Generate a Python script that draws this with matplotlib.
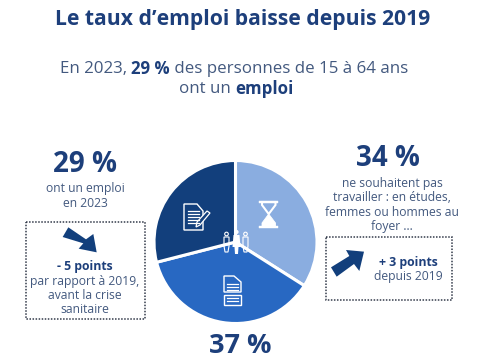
import matplotlib
matplotlib.use("Agg")
import matplotlib.pyplot as plt
from matplotlib.patches import Polygon, Rectangle, Circle

W, H = 485, 360
categories = ["Ne souhaitent pas travailler", "Autre situation", "Ont un emploi"]
values = [34, 37, 29]
colors = ["#8aade0", "#2868c2", "#123f7c"]
value_labels = ["34 %", "37 %", "29 %"]

title = "Le taux d’emploi baisse depuis 2019"
sub1 = [("En 2023, ", False), ("29 %", True), (" des personnes de 15 à 64 ans", False)]
sub2 = [("ont un ", False), ("emploi", True)]
left_lines = ["ont un emploi", "en 2023"]
left_delta = "- 5 points"
left_note = ["par rapport à 2019,", "avant la crise", "sanitaire"]
right_lines = ["ne souhaitent pas", "travailler : en études,", "femmes ou hommes au", "foyer ..."]
right_delta = "+ 3 points"
right_note = "depuis 2019"

DARK = "#1d3f7b"
GREY = "#43597f"
plt.rcParams["font.family"] = ["Open Sans", "DejaVu Sans"]

fig = plt.figure(figsize=(W / 100, H / 100), dpi=100, facecolor="white")

# Pie
cx, cy, r = 235.5, 242, 81.5
pax = fig.add_axes([(cx - r) / W, 1 - (cy + r) / H, 2 * r / W, 2 * r / H])
pax.pie(values, colors=colors, startangle=90, counterclock=False, radius=1,
        wedgeprops=dict(edgecolor="white", linewidth=2.2))
pax.set_xlim(-1, 1); pax.set_ylim(-1, 1); pax.set_aspect("equal"); pax.axis("off")

# Overlay in pixel coordinates
ax = fig.add_axes([0, 0, 1, 1], zorder=5)
ax.set_xlim(0, W); ax.set_ylim(H, 0); ax.axis("off"); ax.patch.set_alpha(0)


def t(x, y, s, size=9, color=GREY, bold=False, ha="center"):
    return ax.text(x, y + 0.16 * size, s, fontsize=size, color=color, ha=ha, va="center",
                   fontweight="bold" if bold else "normal")


def runs(xc, y, parts, size):
    rend = fig.canvas.get_renderer()
    arts = []
    total = 0
    for s, b in parts:
        a = t(0, y, s.replace(" ", "\u00a0"), size, DARK if b else GREY, b, "left")
        w = a.get_window_extent(rend).width
        arts.append((a, w)); total += w
    x = xc - total / 2
    for a, w in arts:
        a.set_x(x); x += w


t(242.5, 17, title, 15.2, DARK, True)
runs(234, 67, sub1, 12.2)
runs(236, 87, sub2, 12.2)

t(85, 161, value_labels[2], 20, DARK, True)
for y, s in zip([187, 202], left_lines):
    t(85, y, s, 8.7)
t(388, 155, value_labels[0], 20, DARK, True)
for y, s in zip([182, 196, 211, 225], right_lines):
    t(392, y, s, 8.7)
t(240, 342.5, value_labels[1], 19.5, DARK, True)

# Dotted boxes
for x0, y0, x1, y1 in [(26, 222, 145, 319), (326, 237, 452, 300)]:
    ax.add_patch(Rectangle((x0, y0), x1 - x0, y1 - y0, fill=False, ec="#333a4a",
                           lw=1.1, ls=(0, (1, 1))))
t(85, 265, left_delta, 8.8, DARK, True)
for y, s in zip([280, 294, 308], left_note):
    t(85, y, s, 8.7)
t(408, 261, right_delta, 8.8, DARK, True)
t(408, 275, right_note, 8.7)

# Arrows
def poly(pts, ox=0, oy=0, k=1, **kw):
    ax.add_patch(Polygon([(ox + a / k, oy + b / k) for a, b in pts], closed=True, **kw))

poly([(205, 262), (258, 298), (280, 282), (290, 337), (236, 326), (250, 310), (188, 291)],
     0, 140, 3, fc="#123f7c", ec="none")
poly([(132, 365), (118, 423), (102, 402), (50, 440), (33, 412), (88, 378), (78, 360)],
     320, 130, 3, fc="#123f7c", ec="none")

# Icons
WH = "white"
kw = dict(fill=False, ec=WH, lw=1.0)
# hourglass
ax.add_patch(Rectangle((259.5, 200.5), 18.5, 2, fc=WH, ec=WH, lw=0.3))
ax.add_patch(Rectangle((259.5, 226), 18.5, 2, fc=WH, ec=WH, lw=0.3))
poly([(262, 202), (275.5, 202), (275.5, 205), (268.7, 214), (262, 205)], fill=False, ec=WH, lw=1.5)
poly([(268.7, 214), (275.5, 223), (275.5, 226), (262, 226), (262, 223)], fill=True, fc=WH, ec=WH, lw=0.6)
# document + pen
poly([(184, 204), (197, 204), (203, 211), (203, 230), (184, 230)], **kw)
for yy in [211, 214, 217, 220, 223]:
    ax.plot([188, 199], [yy, yy], color=WH, lw=0.9)
poly([(197, 222), (207, 211), (210, 213), (200, 225), (196, 227)], fc=colors[2], ec=WH, lw=0.9)
# forms
poly([(224, 276), (234, 276), (241, 282), (241, 292), (224, 292)], **kw)
for yy in [284, 287, 290]:
    ax.plot([227, 238], [yy, yy], color=WH, lw=0.9)
ax.add_patch(Rectangle((224, 295), 17.5, 9.5, **kw))
for yy in [298, 301]:
    ax.plot([227, 238], [yy, yy], color=WH, lw=0.9)
# people
ax.add_patch(Circle((236.5, 232), 2.1, fc=WH, ec="none"))
poly([(233.5, 235), (239.5, 235), (240.5, 247), (238.5, 247), (238, 254), (235, 254), (234.5, 247), (232.5, 247)],
     fc=WH, ec="none")
for px in (226.5, 245.5):
    ax.add_patch(Circle((px, 234), 1.8, fc="none", ec=WH, lw=0.8))
    poly([(px - 2.5, 237), (px + 2.5, 237), (px + 2.5, 246), (px + 1.5, 252), (px - 1.5, 252), (px - 2.5, 246)],
         fc="none", ec=WH, lw=0.8)

fig.savefig("out.png", dpi=100, facecolor="white")
